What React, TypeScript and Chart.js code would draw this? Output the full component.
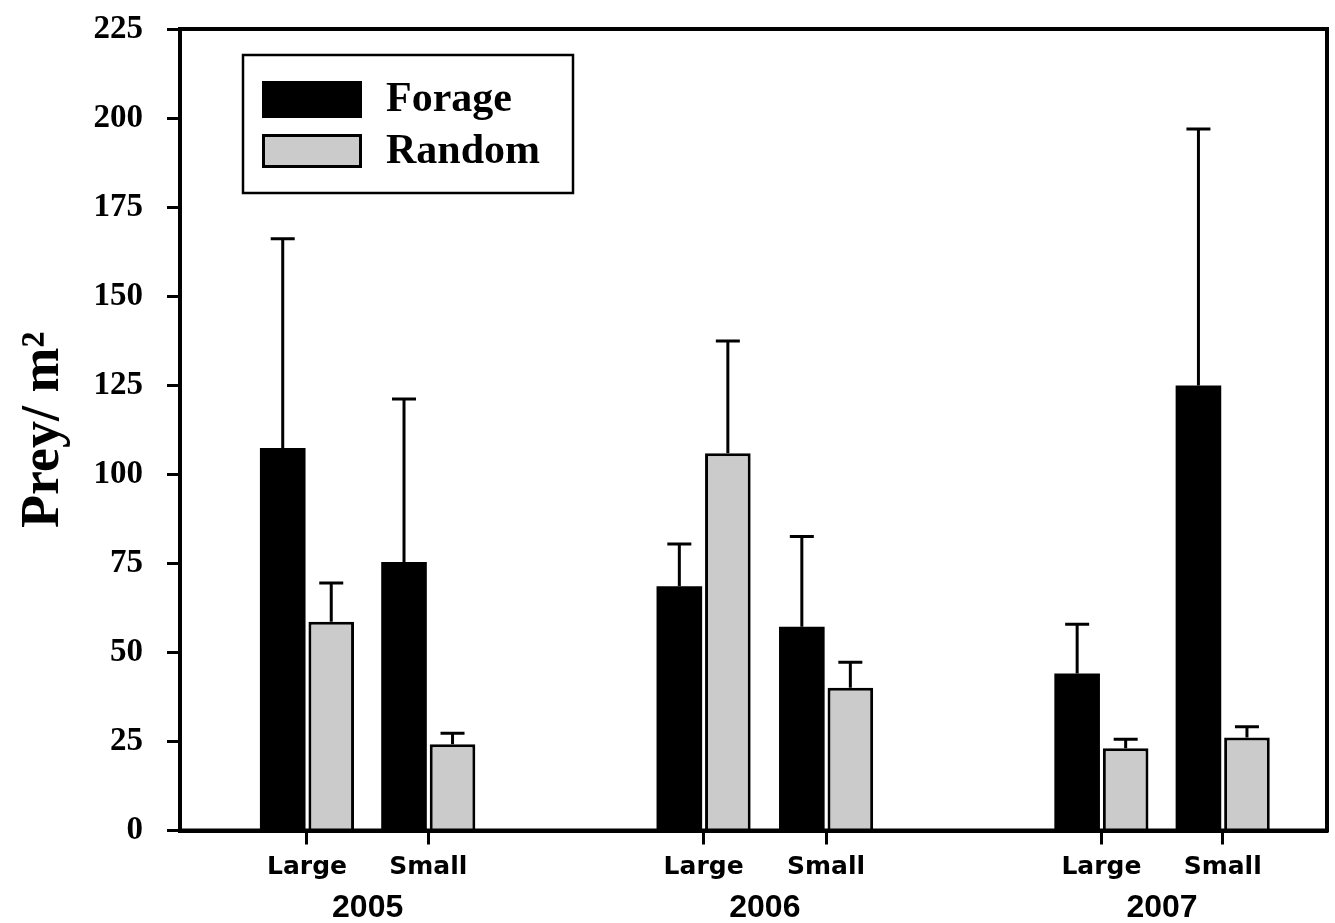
import React, { useEffect, useRef } from "react";
import { Chart, registerables } from "chart.js";

Chart.register(...registerables);

// ---- data ----
const xPositions = [1, 2, 4.27, 5.28, 7.55, 8.55];
const sizeLabels = ["Large", "Small", "Large", "Small", "Large", "Small"];
const years = ["2005", "2006", "2007"];
const forageMeans = [107.4, 75.4, 68.6, 57.2, 44.1, 124.9];
const forageErr = [58.7, 45.7, 11.8, 25.3, 13.8, 72.0];
const randomMeans = [58.6, 24.2, 105.9, 40.1, 23.1, 26.1];
const randomErr = [10.9, 3.1, 31.5, 7.1, 2.5, 3.0];
const yTicks = [0, 25, 50, 75, 100, 125, 150, 175, 200, 225];

const SERIF = "'Liberation Serif', 'Times New Roman', serif";
const SANS = "'DejaVu Sans', sans-serif";
const SANS2 = "'Liberation Sans', Arial, sans-serif";

const errorBarsPlugin = {
  id: "errorBars",
  afterDatasetsDraw(chart: any) {
    const ctx = chart.ctx;
    const y = chart.scales.y;
    const means = [forageMeans, randomMeans];
    const errs = [forageErr, randomErr];
    ctx.save();
    ctx.strokeStyle = "#000";
    ctx.lineWidth = 3;
    ctx.lineCap = "butt";
    for (let di = 0; di < 2; di++) {
      const meta = chart.getDatasetMeta(di);
      meta.data.forEach((bar: any, i: number) => {
        const v = means[di][i];
        const base = y.getPixelForValue(v);
        const top = y.getPixelForValue(v + errs[di][i]);
        ctx.beginPath();
        ctx.moveTo(bar.x, base);
        ctx.lineTo(bar.x, top);
        ctx.moveTo(bar.x - 12, top);
        ctx.lineTo(bar.x + 12, top);
        ctx.stroke();
      });
    }
    ctx.restore();
  },
  afterDraw(chart: any) {
    const ctx = chart.ctx;
    const a = chart.chartArea;
    ctx.save();
    // frame
    ctx.strokeStyle = "#000";
    ctx.lineWidth = 4;
    ctx.strokeRect(a.left, a.top, a.right - a.left, a.bottom - a.top);
    // legend
    const lx = a.left + 63;
    const ly = a.top + 26;
    ctx.lineWidth = 2.5;
    ctx.strokeRect(lx, ly, 330, 138);
    const ds = chart.data.datasets;
    const rows = [
      { y: ly + 26, h: 37 },
      { y: ly + 79, h: 34 },
    ];
    rows.forEach((r, i) => {
      const d = ds[i];
      ctx.fillStyle = d.backgroundColor;
      ctx.fillRect(lx + 19, r.y, 100, r.h);
      ctx.lineWidth = 3;
      ctx.strokeStyle = "#000";
      ctx.strokeRect(lx + 20.5, r.y + 1.5, 97, r.h - 3);
      ctx.fillStyle = "#000";
      ctx.font = `bold 42px ${SERIF}`;
      ctx.textBaseline = "middle";
      ctx.textAlign = "left";
      ctx.fillText(d.label, lx + 143, r.y + r.h / 2 + 1);
    });
    ctx.restore();
  },
};

export default function App() {
  const canvasRef = useRef<HTMLCanvasElement | null>(null);

  useEffect(() => {
    document.body.style.margin = "0";
    const canvas = canvasRef.current;
    if (!canvas) return;
    const chart = new Chart(canvas, {
      type: "bar",
      data: {
        datasets: [
          {
            label: "Forage",
            data: xPositions.map((x, i) => ({ x, y: forageMeans[i] })),
            backgroundColor: "#000000",
            borderColor: "#000000",
            borderWidth: 0,
          },
          {
            label: "Random",
            data: xPositions.map((x, i) => ({ x, y: randomMeans[i] })),
            backgroundColor: "#cbcbcb",
            borderColor: "#000000",
            borderWidth: 3,
          },
        ],
      },
      options: {
        animation: false,
        responsive: true,
        maintainAspectRatio: false,
        datasets: {
          bar: { categoryPercentage: 0.8, barPercentage: 0.94 },
        },
        layout: { padding: { top: 29, right: 8, bottom: 0, left: 0 } },
        plugins: {
          legend: { display: false },
          tooltip: { enabled: false },
        },
        scales: {
          x: {
            type: "linear",
            position: "bottom",
            weight: 0,
            min: -0.047,
            max: 9.41,
            offset: false,
            afterBuildTicks: (scale: any) => {
              scale.ticks = xPositions.map((v) => ({ value: v }));
            },
            afterFit: (scale: any) => {
              scale.height = 50.5;
            },
            ticks: {
              autoSkip: false,
              maxRotation: 0,
              padding: 8,
              color: "#000",
              font: { family: SANS, size: 25, weight: "bold" },
              callback: (_v: any, i: number) => sizeLabels[i],
            },
            grid: {
              display: true,
              drawOnChartArea: false,
              offset: false,
              tickLength: 14,
              tickWidth: 3,
              tickColor: "#000",
            },
            border: { display: true, width: 4, color: "#000" },
          },
          x2: {
            type: "linear",
            position: "bottom",
            weight: 1,
            min: -0.047,
            max: 9.41,
            offset: false,
            afterBuildTicks: (scale: any) => {
              scale.ticks = years.map((_, g) => ({
                value: (xPositions[2 * g] + xPositions[2 * g + 1]) / 2,
              }));
            },
            afterFit: (scale: any) => {
              scale.height = 42;
            },
            ticks: {
              autoSkip: false,
              maxRotation: 0,
              padding: 0,
              color: "#000",
              font: { family: SANS2, size: 32, weight: "bold" },
              callback: (_v: any, i: number) => years[i],
            },
            grid: { display: false },
            border: { display: false },
          },
          y: {
            type: "linear",
            min: 0,
            max: 225,
            afterBuildTicks: (scale: any) => {
              scale.ticks = yTicks.map((v) => ({ value: v }));
            },
            afterFit: (scale: any) => {
              scale.width = 180;
              scale.paddingTop = 0;
              scale.paddingBottom = 0;
            },
            ticks: {
              padding: 24,
              color: "#000",
              font: { family: SERIF, size: 33, weight: "bold" },
            },
            grid: {
              display: true,
              drawOnChartArea: false,
              tickLength: 13,
              tickWidth: 3,
              tickColor: "#000",
            },
            border: { display: true, width: 4, color: "#000" },
            title: {
              display: true,
              text: "Prey/ m²",
              color: "#000",
              font: { family: SERIF, size: 54, weight: "bold" },
              padding: { top: 12, bottom: 0 },
            },
          },
        },
      },
      plugins: [errorBarsPlugin],
    } as any);
    return () => chart.destroy();
  }, []);

  return (
    <div style={{ position: "fixed", left: 0, top: 0, width: 1335, height: 923, background: "#fff" }}>
      <canvas ref={canvasRef} />
    </div>
  );
}
